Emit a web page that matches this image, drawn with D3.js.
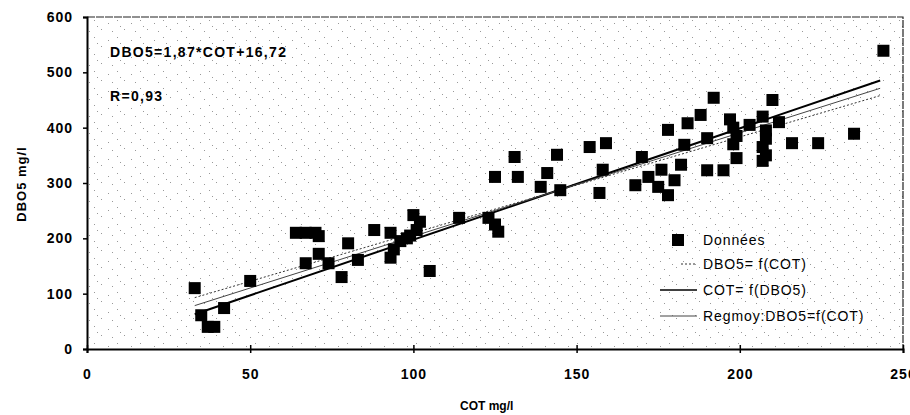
<!DOCTYPE html>
<html><head><meta charset="utf-8">
<script src="https://cdn.jsdelivr.net/npm/d3@7"></script>
<style>body{margin:0;background:#fff}svg{display:block}text{font-family:"Liberation Sans",Arial,sans-serif}</style>
</head><body><svg id="c" width="910" height="415"></svg>
<script>
const cot = [33,35,37,39,42,50,64,67,70,71,67,71,74,78,80,83,88,93,93,94,96,99,100,102,101,98,105,
  114,123,126,125,125,132,131,139,141,144,145,
  154,159,158,157,168,170,172,175,176,178,178,180,182,183,184,188,190,192,190,195,
  197,198,199,198,199,203,207,208,208,207,208,207,212,210,216,224,235,244];
const dbo5 = [110,61,40,40,74,123,210,210,210,204,155,172,155,130,191,161,215,210,165,180,195,205,242,230,215,200,141,
  237,237,212,225,311,311,347,293,318,351,287,
  365,372,324,282,296,347,311,293,324,278,396,305,333,369,408,423,381,454,323,323,
  415,400,385,370,345,405,420,395,380,365,350,340,410,450,372,372,389,539];
const lineNames = ["DBO5= f(COT)", "COT= f(DBO5)", "Regmoy:DBO5=f(COT)"];
const lineSlopes = [1.739, 2.011, 1.87];
const lineIntercepts = [35.4, -3.5, 16.72];
const lineRange = [33, 243];
const xTicks = [0,50,100,150,200,250];
const yTicks = [0,100,200,300,400,500,600];
const eqText = "DBO5=1,87*COT+16,72";
const rText = "R=0,93";

const svg = d3.select("#c");
const L=87,R=903,T=17,B=349;
const x = d3.scaleLinear().domain([0,250]).range([L,R]);
const y = d3.scaleLinear().domain([0,600]).range([B,T]);

// light speckled background texture
const defs = svg.append("defs");
const pat = defs.append("pattern").attr("id","sp").attr("patternUnits","userSpaceOnUse").attr("width",23).attr("height",17);
[[2,3],[9,12],[16,6],[20,14],[5,9]].forEach(p=>pat.append("rect").attr("x",p[0]).attr("y",p[1]).attr("width",1).attr("height",1).attr("fill","#999"));
svg.append("rect").attr("x",L).attr("y",T).attr("width",R-L).attr("height",B-T).attr("fill","url(#sp)");
// frame
svg.append("path").attr("d",`M${L},${T}H${R}V${B}`).attr("fill","none").attr("stroke","#222").attr("stroke-width",1.2).attr("stroke-dasharray","8,1");

// axes
const ya = svg.append("g").attr("transform",`translate(${L},0)`).call(d3.axisLeft(y).tickValues(yTicks).tickSize(4).tickPadding(10));
const xa = svg.append("g").attr("transform",`translate(0,${B})`).call(d3.axisBottom(x).tickValues(xTicks).tickSize(4).tickPadding(16));
[ya,xa].forEach(a=>{a.select(".domain").attr("stroke","#000").attr("stroke-width",2);
  a.selectAll(".tick line").attr("stroke","#000").attr("stroke-width",1.5);
  a.selectAll("text").attr("font-size",14).attr("font-weight","bold").attr("letter-spacing",1).attr("fill","#000");});
xa.selectAll(".tick line").attr("y1",-4);

// regression lines
const styles = [{w:1,d:"2,2",c:"#333"},{w:2,d:null,c:"#000"},{w:1,d:null,c:"#444"}];
lineSlopes.forEach((s,i)=>{
  svg.append("line").attr("x1",x(lineRange[0])).attr("y1",y(s*lineRange[0]+lineIntercepts[i]))
    .attr("x2",x(lineRange[1])).attr("y2",y(s*lineRange[1]+lineIntercepts[i]))
    .attr("stroke",styles[i].c).attr("stroke-width",styles[i].w).attr("stroke-dasharray",styles[i].d);
});

// points
const sz=12;
svg.append("g").selectAll("rect").data(cot.map((c,i)=>[c,dbo5[i]])).join("rect")
  .attr("x",d=>x(d[0])-sz/2).attr("y",d=>y(d[1])-sz/2).attr("width",sz).attr("height",sz).attr("fill","#000");

// annotations
svg.append("text").attr("x",110).attr("y",57).attr("font-size",14).attr("font-weight","bold").attr("letter-spacing",1.3).text(eqText);
svg.append("text").attr("x",110).attr("y",101).attr("font-size",14).attr("font-weight","bold").attr("letter-spacing",1.3).text(rText);

// axis titles
svg.append("text").attr("transform","translate(26,184) rotate(-90)").attr("text-anchor","middle").attr("font-size",13).attr("font-weight","bold").attr("letter-spacing",1).text("DBO5 mg/l");
svg.append("text").attr("x",460).attr("y",410).attr("font-size",12).attr("font-weight","bold").text("COT mg/l");

// legend
const lg = svg.append("g");
lg.append("rect").attr("x",672).attr("y",234).attr("width",12).attr("height",12).attr("fill","#000");
const lfs = {size:14, ls:0.9};
lg.append("text").attr("x",703).attr("y",245).attr("font-size",lfs.size).attr("letter-spacing",lfs.ls).text("Données");
const ly=[264,290,316];
lineNames.forEach((n,i)=>{
  lg.append("line").attr("x1",i===0?681:660).attr("x2",697).attr("y1",ly[i]).attr("y2",ly[i])
    .attr("stroke",styles[i].c).attr("stroke-width",i===1?1.5:1).attr("stroke-dasharray",styles[i].d);
  lg.append("text").attr("x",703).attr("y",ly[i]+5).attr("font-size",lfs.size).attr("letter-spacing",lfs.ls).text(n);
});
</script></body></html>
